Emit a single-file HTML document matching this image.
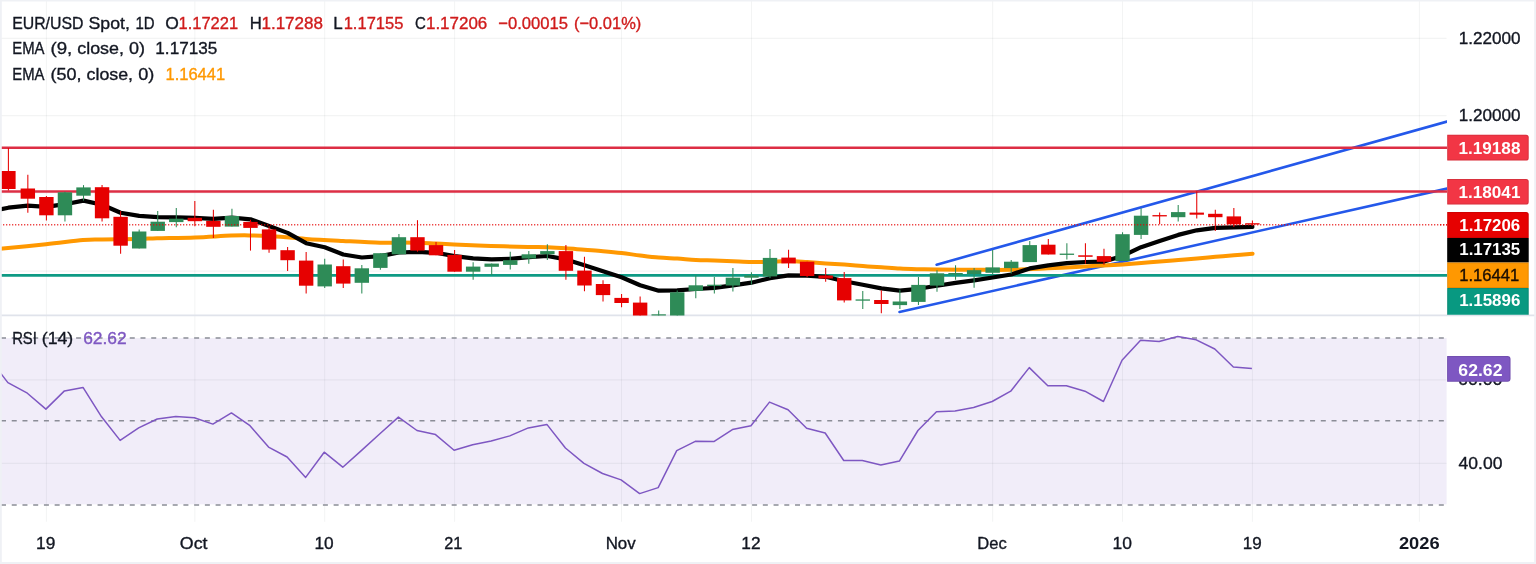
<!DOCTYPE html>
<html><head><meta charset="utf-8"><title>EUR/USD chart</title>
<style>html,body{margin:0;padding:0;background:#fff;}body{width:1536px;height:564px;overflow:hidden;font-family:"Liberation Sans",sans-serif;}svg{display:block;will-change:transform;opacity:0.9999}</style>
</head><body>
<svg width="1536" height="564" viewBox="0 0 1536 564" font-family="'Liberation Sans', sans-serif">
<rect x="0" y="0" width="1536" height="564" fill="#fff"/>
<defs><clipPath id="cm"><rect x="0" y="0" width="1447" height="315.4"/></clipPath><clipPath id="cr"><rect x="0" y="316" width="1447" height="206"/></clipPath></defs>
<rect x="0" y="338.1" width="1446.6" height="166.2" fill="#7e57c2" fill-opacity="0.105"/>
<line x1="46.40" y1="0" x2="46.40" y2="521.8" stroke="rgba(42,46,57,0.055)" stroke-width="1"/>
<line x1="194.83" y1="0" x2="194.83" y2="521.8" stroke="rgba(42,46,57,0.055)" stroke-width="1"/>
<line x1="324.71" y1="0" x2="324.71" y2="521.8" stroke="rgba(42,46,57,0.055)" stroke-width="1"/>
<line x1="454.59" y1="0" x2="454.59" y2="521.8" stroke="rgba(42,46,57,0.055)" stroke-width="1"/>
<line x1="621.57" y1="0" x2="621.57" y2="521.8" stroke="rgba(42,46,57,0.055)" stroke-width="1"/>
<line x1="751.45" y1="0" x2="751.45" y2="521.8" stroke="rgba(42,46,57,0.055)" stroke-width="1"/>
<line x1="992.65" y1="0" x2="992.65" y2="521.8" stroke="rgba(42,46,57,0.055)" stroke-width="1"/>
<line x1="1122.53" y1="0" x2="1122.53" y2="521.8" stroke="rgba(42,46,57,0.055)" stroke-width="1"/>
<line x1="1252.41" y1="0" x2="1252.41" y2="521.8" stroke="rgba(42,46,57,0.055)" stroke-width="1"/>
<line x1="1419.39" y1="0" x2="1419.39" y2="521.8" stroke="rgba(42,46,57,0.055)" stroke-width="1"/>
<line x1="0" y1="38.4" x2="1446.5" y2="38.4" stroke="rgba(42,46,57,0.055)" stroke-width="1.2"/>
<line x1="0" y1="115.7" x2="1446.5" y2="115.7" stroke="rgba(42,46,57,0.055)" stroke-width="1.2"/>
<line x1="0" y1="193.0" x2="1446.5" y2="193.0" stroke="rgba(42,46,57,0.055)" stroke-width="1.2"/>
<line x1="0" y1="271.2" x2="1446.5" y2="271.2" stroke="rgba(42,46,57,0.055)" stroke-width="1.2"/>
<line x1="0" y1="379.8" x2="1446.5" y2="379.8" stroke="rgba(42,46,57,0.055)" stroke-width="1.2"/>
<line x1="0" y1="463.3" x2="1446.5" y2="463.3" stroke="rgba(42,46,57,0.055)" stroke-width="1.2"/>
<line x1="0" y1="315.4" x2="1536" y2="315.4" stroke="#e0e3eb" stroke-width="1.6"/>
<g clip-path="url(#cm)">
<line x1="936.6" y1="264.65" x2="1447" y2="121.6" stroke="#2458ea" stroke-width="2.6" stroke-linecap="round"/>
<line x1="899.5" y1="311.9" x2="1447" y2="188.6" stroke="#2458ea" stroke-width="2.6" stroke-linecap="round"/>
<line x1="0" y1="147.8" x2="1447" y2="147.8" stroke="#dd2e44" stroke-width="2.5"/>
<line x1="0" y1="191.55" x2="1447" y2="191.55" stroke="#dd2e44" stroke-width="2.5"/>
<line x1="0" y1="275.3" x2="1447" y2="275.3" stroke="#0e9a84" stroke-width="2.7"/>
<path d="M0.00,248.70C7.67,247.97 32.17,245.75 46.00,244.30C59.83,242.85 73.67,240.82 83.00,240.00C92.33,239.18 92.67,239.58 102.00,239.40C111.33,239.22 129.83,239.08 139.00,238.90C148.17,238.72 147.67,238.55 157.00,238.30C166.33,238.05 182.67,237.85 195.00,237.40C207.33,236.95 221.83,235.93 231.00,235.60C240.17,235.27 243.67,235.33 250.00,235.40C256.33,235.47 259.67,235.42 269.00,236.00C278.33,236.58 293.67,238.07 306.00,238.90C318.33,239.73 330.67,240.35 343.00,241.00C355.33,241.65 370.83,242.53 380.00,242.80C389.17,243.07 391.83,242.60 398.00,242.60C404.17,242.60 410.72,242.63 417.00,242.80C423.28,242.97 429.53,243.33 435.70,243.60C441.87,243.87 444.78,244.02 454.00,244.40C463.22,244.78 478.67,245.48 491.00,245.90C503.33,246.32 518.60,246.67 528.00,246.90C537.40,247.13 541.07,247.07 547.40,247.30C553.73,247.53 559.82,247.88 566.00,248.30C572.18,248.72 578.33,249.32 584.50,249.80C590.67,250.28 596.82,250.67 603.00,251.20C609.18,251.73 615.40,252.28 621.60,253.00C627.80,253.72 634.00,254.73 640.20,255.50C646.40,256.27 652.62,257.08 658.80,257.60C664.98,258.12 671.12,258.22 677.30,258.60C683.48,258.98 689.72,259.58 695.90,259.90C702.08,260.22 708.22,260.27 714.40,260.50C720.58,260.73 726.80,261.03 733.00,261.30C739.20,261.57 745.43,262.03 751.60,262.10C757.77,262.17 763.82,261.87 770.00,261.70C776.18,261.53 782.50,261.03 788.70,261.10C794.90,261.17 801.02,261.72 807.20,262.10C813.38,262.48 819.62,262.98 825.80,263.40C831.98,263.82 838.12,264.15 844.30,264.60C850.48,265.05 856.70,265.65 862.90,266.10C869.10,266.55 875.32,266.88 881.50,267.30C887.68,267.72 893.82,268.28 900.00,268.60C906.18,268.92 912.43,269.05 918.60,269.20C924.77,269.35 927.77,269.40 937.00,269.50C946.23,269.60 961.67,269.75 974.00,269.80C986.33,269.85 998.67,270.05 1011.00,269.80C1023.33,269.55 1038.67,268.70 1048.00,268.30C1057.33,267.90 1060.83,267.72 1067.00,267.40C1073.17,267.08 1078.83,266.73 1085.00,266.40C1091.17,266.07 1097.72,265.73 1104.00,265.40C1110.28,265.07 1116.48,264.78 1122.70,264.40C1128.92,264.02 1135.12,263.58 1141.30,263.10C1147.48,262.62 1153.62,262.02 1159.80,261.50C1165.98,260.98 1172.20,260.52 1178.40,260.00C1184.60,259.48 1190.82,258.93 1197.00,258.40C1203.18,257.87 1209.33,257.33 1215.50,256.80C1221.67,256.27 1227.82,255.72 1234.00,255.20C1240.18,254.68 1249.50,253.95 1252.60,253.70" fill="none" stroke="#ff9800" stroke-width="4" stroke-linecap="round" stroke-linejoin="round"/>
<path d="M0.00,209.50 L8.40,207.70 L27.84,205.60 L46.40,206.80 L64.95,204.20 L83.51,200.60 L102.06,204.80 L120.61,212.70 L139.17,215.90 L157.72,217.05 L176.28,217.30 L194.83,217.80 L213.38,218.80 L231.94,217.70 L250.49,219.30 L269.05,226.00 L287.60,232.90 L306.15,243.20 L324.71,247.30 L343.26,254.50 L361.82,257.50 L380.37,256.10 L398.92,252.50 L417.48,251.80 L436.03,252.80 L454.59,256.10 L473.14,258.30 L491.69,259.40 L510.25,258.90 L528.80,257.20 L547.36,256.00 L565.91,259.40 L584.46,265.20 L603.02,271.20 L621.57,277.30 L640.13,285.30 L658.68,290.70 L677.23,290.30 L695.79,289.00 L714.34,287.80 L732.90,285.40 L751.45,282.70 L770.00,278.20 L788.56,275.40 L807.11,275.70 L825.67,276.80 L844.22,281.20 L862.77,284.70 L881.33,288.40 L899.88,290.60 L918.44,288.80 L936.99,285.80 L955.54,282.90 L974.10,280.30 L992.65,277.50 L1011.21,274.50 L1029.76,268.40 L1048.31,265.40 L1066.87,263.10 L1085.42,262.00 L1103.98,261.60 L1122.53,255.90 L1141.08,247.20 L1159.64,240.90 L1178.19,234.90 L1196.75,230.30 L1215.30,227.80 L1233.85,227.30 L1252.41,226.85" fill="none" stroke="#000" stroke-width="4.2" stroke-linecap="round" stroke-linejoin="round"/>
<line x1="8.40" y1="148.0" x2="8.40" y2="190.6" stroke="#e60000" stroke-width="1.05"/>
<rect x="1.20" y="171.0" width="14.4" height="18.00" fill="#e60000"/>
<line x1="27.84" y1="174.7" x2="27.84" y2="212.8" stroke="#e60000" stroke-width="1.05"/>
<rect x="20.64" y="188.5" width="14.4" height="10.20" fill="#e60000"/>
<line x1="46.40" y1="196.0" x2="46.40" y2="220.4" stroke="#e60000" stroke-width="1.05"/>
<rect x="39.20" y="197.0" width="14.4" height="18.30" fill="#e60000"/>
<line x1="64.95" y1="191.7" x2="64.95" y2="221.5" stroke="#2e8b57" stroke-width="1.05"/>
<rect x="57.75" y="192.3" width="14.4" height="23.00" fill="#2e8b57"/>
<line x1="83.51" y1="185.1" x2="83.51" y2="200.6" stroke="#2e8b57" stroke-width="1.05"/>
<rect x="76.31" y="187.4" width="14.4" height="8.30" fill="#2e8b57"/>
<line x1="102.06" y1="185.1" x2="102.06" y2="221.5" stroke="#e60000" stroke-width="1.05"/>
<rect x="94.86" y="187.2" width="14.4" height="31.10" fill="#e60000"/>
<line x1="120.61" y1="210.9" x2="120.61" y2="253.8" stroke="#e60000" stroke-width="1.05"/>
<rect x="113.41" y="216.8" width="14.4" height="28.90" fill="#e60000"/>
<line x1="139.17" y1="229.4" x2="139.17" y2="248.5" stroke="#2e8b57" stroke-width="1.05"/>
<rect x="131.97" y="231.5" width="14.4" height="17.00" fill="#2e8b57"/>
<line x1="157.72" y1="210.9" x2="157.72" y2="230.9" stroke="#2e8b57" stroke-width="1.05"/>
<rect x="150.52" y="221.7" width="14.4" height="9.20" fill="#2e8b57"/>
<line x1="176.28" y1="208.1" x2="176.28" y2="227.2" stroke="#2e8b57" stroke-width="1.05"/>
<rect x="169.08" y="218.7" width="14.4" height="3.40" fill="#2e8b57"/>
<line x1="194.83" y1="201.0" x2="194.83" y2="226.2" stroke="#e60000" stroke-width="1.05"/>
<rect x="187.63" y="217.8" width="14.4" height="3.40" fill="#e60000"/>
<line x1="213.38" y1="209.8" x2="213.38" y2="237.9" stroke="#e60000" stroke-width="1.05"/>
<rect x="206.18" y="220.9" width="14.4" height="5.90" fill="#e60000"/>
<line x1="231.94" y1="208.7" x2="231.94" y2="226.6" stroke="#2e8b57" stroke-width="1.05"/>
<rect x="224.74" y="216.0" width="14.4" height="10.60" fill="#2e8b57"/>
<line x1="250.49" y1="219.8" x2="250.49" y2="250.6" stroke="#e60000" stroke-width="1.05"/>
<rect x="243.29" y="221.9" width="14.4" height="6.00" fill="#e60000"/>
<line x1="269.05" y1="226.2" x2="269.05" y2="252.8" stroke="#e60000" stroke-width="1.05"/>
<rect x="261.85" y="229.4" width="14.4" height="20.20" fill="#e60000"/>
<line x1="287.60" y1="247.0" x2="287.60" y2="270.9" stroke="#e60000" stroke-width="1.05"/>
<rect x="280.40" y="250.2" width="14.4" height="10.00" fill="#e60000"/>
<line x1="306.15" y1="252.1" x2="306.15" y2="293.6" stroke="#e60000" stroke-width="1.05"/>
<rect x="298.95" y="260.6" width="14.4" height="25.10" fill="#e60000"/>
<line x1="324.71" y1="258.7" x2="324.71" y2="287.9" stroke="#2e8b57" stroke-width="1.05"/>
<rect x="317.51" y="264.5" width="14.4" height="21.90" fill="#2e8b57"/>
<line x1="343.26" y1="259.6" x2="343.26" y2="287.9" stroke="#e60000" stroke-width="1.05"/>
<rect x="336.06" y="266.2" width="14.4" height="17.40" fill="#e60000"/>
<line x1="361.82" y1="265.1" x2="361.82" y2="293.6" stroke="#2e8b57" stroke-width="1.05"/>
<rect x="354.62" y="268.3" width="14.4" height="14.50" fill="#2e8b57"/>
<line x1="380.37" y1="253.2" x2="380.37" y2="269.8" stroke="#2e8b57" stroke-width="1.05"/>
<rect x="373.17" y="253.2" width="14.4" height="14.70" fill="#2e8b57"/>
<line x1="398.92" y1="234.0" x2="398.92" y2="254.3" stroke="#2e8b57" stroke-width="1.05"/>
<rect x="391.72" y="237.2" width="14.4" height="17.10" fill="#2e8b57"/>
<line x1="417.48" y1="220.2" x2="417.48" y2="251.7" stroke="#e60000" stroke-width="1.05"/>
<rect x="410.28" y="237.2" width="14.4" height="13.40" fill="#e60000"/>
<line x1="436.03" y1="242.1" x2="436.03" y2="255.3" stroke="#e60000" stroke-width="1.05"/>
<rect x="428.83" y="245.1" width="14.4" height="10.20" fill="#e60000"/>
<line x1="454.59" y1="250.0" x2="454.59" y2="271.7" stroke="#e60000" stroke-width="1.05"/>
<rect x="447.39" y="254.9" width="14.4" height="16.80" fill="#e60000"/>
<line x1="473.14" y1="262.3" x2="473.14" y2="279.8" stroke="#2e8b57" stroke-width="1.05"/>
<rect x="465.94" y="266.6" width="14.4" height="5.10" fill="#2e8b57"/>
<line x1="491.69" y1="263.6" x2="491.69" y2="274.9" stroke="#2e8b57" stroke-width="1.05"/>
<rect x="484.49" y="263.6" width="14.4" height="3.20" fill="#2e8b57"/>
<line x1="510.25" y1="251.7" x2="510.25" y2="269.6" stroke="#2e8b57" stroke-width="1.05"/>
<rect x="503.05" y="260.2" width="14.4" height="4.70" fill="#2e8b57"/>
<line x1="528.80" y1="251.1" x2="528.80" y2="263.8" stroke="#2e8b57" stroke-width="1.05"/>
<rect x="521.60" y="254.3" width="14.4" height="4.20" fill="#2e8b57"/>
<line x1="547.36" y1="244.3" x2="547.36" y2="260.0" stroke="#2e8b57" stroke-width="1.05"/>
<rect x="540.16" y="251.1" width="14.4" height="3.20" fill="#2e8b57"/>
<line x1="565.91" y1="244.9" x2="565.91" y2="279.7" stroke="#e60000" stroke-width="1.05"/>
<rect x="558.71" y="251.1" width="14.4" height="19.70" fill="#e60000"/>
<line x1="584.46" y1="256.8" x2="584.46" y2="291.3" stroke="#e60000" stroke-width="1.05"/>
<rect x="577.26" y="270.6" width="14.4" height="14.90" fill="#e60000"/>
<line x1="603.02" y1="280.2" x2="603.02" y2="301.5" stroke="#e60000" stroke-width="1.05"/>
<rect x="595.82" y="284.0" width="14.4" height="11.10" fill="#e60000"/>
<line x1="621.57" y1="294.0" x2="621.57" y2="307.2" stroke="#e60000" stroke-width="1.05"/>
<rect x="614.37" y="297.9" width="14.4" height="5.10" fill="#e60000"/>
<line x1="640.13" y1="296.6" x2="640.13" y2="316.0" stroke="#e60000" stroke-width="1.05"/>
<rect x="632.93" y="302.6" width="14.4" height="13.40" fill="#e60000"/>
<line x1="658.68" y1="310.4" x2="658.68" y2="316.0" stroke="#2e8b57" stroke-width="1.05"/>
<rect x="651.48" y="314.3" width="14.4" height="1.70" fill="#2e8b57"/>
<line x1="677.23" y1="290.4" x2="677.23" y2="316.0" stroke="#2e8b57" stroke-width="1.05"/>
<rect x="670.03" y="292.3" width="14.4" height="23.70" fill="#2e8b57"/>
<line x1="695.79" y1="275.5" x2="695.79" y2="298.3" stroke="#2e8b57" stroke-width="1.05"/>
<rect x="688.59" y="285.3" width="14.4" height="5.60" fill="#2e8b57"/>
<line x1="714.34" y1="277.0" x2="714.34" y2="293.6" stroke="#2e8b57" stroke-width="1.05"/>
<rect x="707.14" y="284.7" width="14.4" height="1.30" fill="#2e8b57"/>
<line x1="732.90" y1="268.1" x2="732.90" y2="291.5" stroke="#2e8b57" stroke-width="1.05"/>
<rect x="725.70" y="277.7" width="14.4" height="7.80" fill="#2e8b57"/>
<line x1="751.45" y1="272.3" x2="751.45" y2="284.5" stroke="#2e8b57" stroke-width="1.05"/>
<rect x="744.25" y="275.5" width="14.4" height="2.20" fill="#2e8b57"/>
<line x1="770.00" y1="248.9" x2="770.00" y2="278.0" stroke="#2e8b57" stroke-width="1.05"/>
<rect x="762.80" y="257.9" width="14.4" height="18.50" fill="#2e8b57"/>
<line x1="788.56" y1="249.8" x2="788.56" y2="267.9" stroke="#e60000" stroke-width="1.05"/>
<rect x="781.36" y="257.6" width="14.4" height="5.80" fill="#e60000"/>
<line x1="807.11" y1="261.7" x2="807.11" y2="277.0" stroke="#e60000" stroke-width="1.05"/>
<rect x="799.91" y="261.7" width="14.4" height="14.30" fill="#e60000"/>
<line x1="825.67" y1="267.9" x2="825.67" y2="281.7" stroke="#e60000" stroke-width="1.05"/>
<rect x="818.47" y="275.5" width="14.4" height="3.00" fill="#e60000"/>
<line x1="844.22" y1="272.1" x2="844.22" y2="302.6" stroke="#e60000" stroke-width="1.05"/>
<rect x="837.02" y="278.1" width="14.4" height="22.30" fill="#e60000"/>
<line x1="862.77" y1="290.9" x2="862.77" y2="308.9" stroke="#2e8b57" stroke-width="1.05"/>
<rect x="855.57" y="299.4" width="14.4" height="1.30" fill="#2e8b57"/>
<line x1="881.33" y1="290.2" x2="881.33" y2="313.2" stroke="#e60000" stroke-width="1.05"/>
<rect x="874.13" y="300.0" width="14.4" height="4.00" fill="#e60000"/>
<line x1="899.88" y1="289.8" x2="899.88" y2="308.9" stroke="#2e8b57" stroke-width="1.05"/>
<rect x="892.68" y="301.5" width="14.4" height="3.60" fill="#2e8b57"/>
<line x1="918.44" y1="277.0" x2="918.44" y2="305.1" stroke="#2e8b57" stroke-width="1.05"/>
<rect x="911.24" y="284.9" width="14.4" height="17.00" fill="#2e8b57"/>
<line x1="936.99" y1="270.2" x2="936.99" y2="291.7" stroke="#2e8b57" stroke-width="1.05"/>
<rect x="929.79" y="273.3" width="14.4" height="12.30" fill="#2e8b57"/>
<line x1="955.54" y1="265.3" x2="955.54" y2="279.8" stroke="#2e8b57" stroke-width="1.05"/>
<rect x="948.34" y="273.0" width="14.4" height="1.50" fill="#2e8b57"/>
<line x1="974.10" y1="268.1" x2="974.10" y2="287.7" stroke="#2e8b57" stroke-width="1.05"/>
<rect x="966.90" y="270.2" width="14.4" height="3.80" fill="#2e8b57"/>
<line x1="992.65" y1="250.0" x2="992.65" y2="274.5" stroke="#2e8b57" stroke-width="1.05"/>
<rect x="985.45" y="267.4" width="14.4" height="5.40" fill="#2e8b57"/>
<line x1="1011.21" y1="260.0" x2="1011.21" y2="273.4" stroke="#2e8b57" stroke-width="1.05"/>
<rect x="1004.01" y="261.7" width="14.4" height="6.40" fill="#2e8b57"/>
<line x1="1029.76" y1="241.1" x2="1029.76" y2="262.1" stroke="#2e8b57" stroke-width="1.05"/>
<rect x="1022.56" y="245.1" width="14.4" height="17.00" fill="#2e8b57"/>
<line x1="1048.31" y1="238.9" x2="1048.31" y2="254.5" stroke="#e60000" stroke-width="1.05"/>
<rect x="1041.11" y="244.7" width="14.4" height="9.80" fill="#e60000"/>
<line x1="1066.87" y1="243.2" x2="1066.87" y2="259.6" stroke="#2e8b57" stroke-width="1.05"/>
<rect x="1059.67" y="253.6" width="14.4" height="1.30" fill="#2e8b57"/>
<line x1="1085.42" y1="243.2" x2="1085.42" y2="263.8" stroke="#e60000" stroke-width="1.05"/>
<rect x="1078.22" y="255.3" width="14.4" height="1.50" fill="#e60000"/>
<line x1="1103.98" y1="248.8" x2="1103.98" y2="264.8" stroke="#e60000" stroke-width="1.05"/>
<rect x="1096.78" y="256.1" width="14.4" height="5.70" fill="#e60000"/>
<line x1="1122.53" y1="232.3" x2="1122.53" y2="261.0" stroke="#2e8b57" stroke-width="1.05"/>
<rect x="1115.33" y="234.2" width="14.4" height="26.80" fill="#2e8b57"/>
<line x1="1141.08" y1="208.3" x2="1141.08" y2="239.1" stroke="#2e8b57" stroke-width="1.05"/>
<rect x="1133.88" y="215.7" width="14.4" height="19.20" fill="#2e8b57"/>
<line x1="1159.64" y1="212.6" x2="1159.64" y2="224.3" stroke="#e60000" stroke-width="1.05"/>
<rect x="1152.44" y="215.1" width="14.4" height="1.30" fill="#e60000"/>
<line x1="1178.19" y1="205.1" x2="1178.19" y2="221.5" stroke="#2e8b57" stroke-width="1.05"/>
<rect x="1170.99" y="212.1" width="14.4" height="5.10" fill="#2e8b57"/>
<line x1="1196.75" y1="191.3" x2="1196.75" y2="218.5" stroke="#e60000" stroke-width="1.05"/>
<rect x="1189.55" y="212.6" width="14.4" height="2.10" fill="#e60000"/>
<line x1="1215.30" y1="209.8" x2="1215.30" y2="231.1" stroke="#e60000" stroke-width="1.05"/>
<rect x="1208.10" y="213.8" width="14.4" height="3.40" fill="#e60000"/>
<line x1="1233.85" y1="207.9" x2="1233.85" y2="227.0" stroke="#e60000" stroke-width="1.05"/>
<rect x="1226.65" y="216.4" width="14.4" height="7.90" fill="#e60000"/>
<line x1="1252.41" y1="220.6" x2="1252.41" y2="225.7" stroke="#e60000" stroke-width="1.05"/>
<rect x="1245.21" y="223.2" width="14.4" height="1.30" fill="#e60000"/>
<line x1="0" y1="224.8" x2="1447" y2="224.8" stroke="#e60000" stroke-opacity="0.72" stroke-width="1.4" stroke-dasharray="1.3 1.7"/>
</g>
<g clip-path="url(#cr)">
<line x1="1" y1="338.1" x2="1446.5" y2="338.1" stroke="#8b8d97" stroke-width="1.5" stroke-dasharray="5 5.73"/>
<line x1="1" y1="420.8" x2="1446.5" y2="420.8" stroke="#8b8d97" stroke-width="1.5" stroke-dasharray="5 5.73"/>
<line x1="1" y1="504.9" x2="1446.5" y2="504.9" stroke="#8b8d97" stroke-width="1.5" stroke-dasharray="5 5.73"/>
<path d="M0.00,372.40 L7.90,382.60 L27.34,393.20 L45.90,409.10 L64.45,390.90 L83.01,387.40 L101.56,416.80 L120.11,440.40 L138.67,427.90 L157.22,419.00 L175.78,416.40 L194.33,417.70 L212.88,424.10 L231.44,412.90 L249.99,425.70 L268.55,447.10 L287.10,457.00 L305.65,477.40 L324.21,452.20 L342.76,467.20 L361.32,450.60 L379.87,433.70 L398.42,417.10 L416.98,430.50 L435.53,434.60 L454.09,450.30 L472.64,444.80 L491.19,441.00 L509.75,435.90 L528.30,427.90 L546.86,424.40 L565.41,448.00 L583.96,463.30 L602.52,473.50 L621.07,479.90 L639.63,493.60 L658.18,487.60 L676.73,450.60 L695.29,441.30 L713.84,441.60 L732.40,429.60 L750.95,425.70 L769.50,402.10 L788.06,409.70 L806.61,428.20 L825.17,433.00 L843.72,460.50 L862.27,460.50 L880.83,464.90 L899.38,461.10 L917.94,430.50 L936.49,411.70 L955.04,411.00 L973.60,407.50 L992.15,401.50 L1010.71,391.20 L1029.26,367.60 L1047.81,385.80 L1066.37,385.80 L1084.92,391.20 L1103.48,401.50 L1122.03,360.30 L1140.58,340.20 L1159.14,341.50 L1177.69,336.60 L1196.25,339.80 L1214.80,349.00 L1233.35,367.00 L1251.91,368.40" fill="none" stroke="#7e57c2" stroke-width="1.5" stroke-linejoin="round"/>
</g>
<text x="12.16" y="28.70" font-size="17" fill="#131722" stroke="#131722" stroke-width="0.35" textLength="71.29" lengthAdjust="spacingAndGlyphs">EUR/USD</text>
<text x="88.55" y="28.70" font-size="17" fill="#131722" stroke="#131722" stroke-width="0.35" textLength="41.38" lengthAdjust="spacingAndGlyphs">Spot,</text>
<text x="135.46" y="28.70" font-size="17" fill="#131722" stroke="#131722" stroke-width="0.35" textLength="19.16" lengthAdjust="spacingAndGlyphs">1D</text>
<text x="165.18" y="28.70" font-size="17" fill="#131722" stroke="#131722" stroke-width="0.35" textLength="13.58" lengthAdjust="spacingAndGlyphs">O</text>
<text x="178.57" y="28.70" font-size="17" fill="#d01c1c" stroke="#d01c1c" stroke-width="0.35" textLength="59.50" lengthAdjust="spacingAndGlyphs">1.17221</text>
<text x="249.69" y="28.70" font-size="17" fill="#131722" stroke="#131722" stroke-width="0.35" textLength="12.07" lengthAdjust="spacingAndGlyphs">H</text>
<text x="261.44" y="28.70" font-size="17" fill="#d01c1c" stroke="#d01c1c" stroke-width="0.35" textLength="61.55" lengthAdjust="spacingAndGlyphs">1.17288</text>
<text x="333.27" y="28.70" font-size="17" fill="#131722" stroke="#131722" stroke-width="0.35" textLength="9.45" lengthAdjust="spacingAndGlyphs">L</text>
<text x="343.67" y="28.70" font-size="17" fill="#d01c1c" stroke="#d01c1c" stroke-width="0.35" textLength="59.80" lengthAdjust="spacingAndGlyphs">1.17155</text>
<text x="415.00" y="28.70" font-size="17" fill="#131722" stroke="#131722" stroke-width="0.35" textLength="10.82" lengthAdjust="spacingAndGlyphs">C</text>
<text x="425.94" y="28.70" font-size="17" fill="#d01c1c" stroke="#d01c1c" stroke-width="0.35" textLength="61.35" lengthAdjust="spacingAndGlyphs">1.17206</text>
<text x="498.22" y="28.70" font-size="17" fill="#d01c1c" stroke="#d01c1c" stroke-width="0.35" textLength="69.75" lengthAdjust="spacingAndGlyphs">−0.00015</text>
<text x="574.03" y="28.70" font-size="17" fill="#d01c1c" stroke="#d01c1c" stroke-width="0.35" textLength="67.22" lengthAdjust="spacingAndGlyphs">(−0.01%)</text>
<text x="12.24" y="54.20" font-size="17" fill="#131722" stroke="#131722" stroke-width="0.35" textLength="32.29" lengthAdjust="spacingAndGlyphs">EMA</text>
<text x="50.43" y="54.20" font-size="17" fill="#131722" stroke="#131722" stroke-width="0.35" textLength="21.77" lengthAdjust="spacingAndGlyphs">(9,</text>
<text x="77.24" y="54.20" font-size="17" fill="#131722" stroke="#131722" stroke-width="0.35" textLength="46.69" lengthAdjust="spacingAndGlyphs">close,</text>
<text x="129.14" y="54.20" font-size="17" fill="#131722" stroke="#131722" stroke-width="0.35" textLength="15.99" lengthAdjust="spacingAndGlyphs">0)</text>
<text x="155.33" y="54.20" font-size="17" fill="#131722" stroke="#131722" stroke-width="0.35" textLength="61.97" lengthAdjust="spacingAndGlyphs">1.17135</text>
<text x="12.24" y="79.60" font-size="17" fill="#131722" stroke="#131722" stroke-width="0.35" textLength="32.29" lengthAdjust="spacingAndGlyphs">EMA</text>
<text x="50.46" y="79.60" font-size="17" fill="#131722" stroke="#131722" stroke-width="0.35" textLength="30.99" lengthAdjust="spacingAndGlyphs">(50,</text>
<text x="86.54" y="79.60" font-size="17" fill="#131722" stroke="#131722" stroke-width="0.35" textLength="46.49" lengthAdjust="spacingAndGlyphs">close,</text>
<text x="138.23" y="79.60" font-size="17" fill="#131722" stroke="#131722" stroke-width="0.35" textLength="16.10" lengthAdjust="spacingAndGlyphs">0)</text>
<text x="165.47" y="79.60" font-size="17" fill="#ff9800" stroke="#ff9800" stroke-width="0.35" textLength="59.70" lengthAdjust="spacingAndGlyphs">1.16441</text>
<text x="12.14" y="343.60" font-size="17" fill="#131722" stroke="#131722" stroke-width="0.35" textLength="24.81" lengthAdjust="spacingAndGlyphs">RSI</text>
<text x="41.77" y="343.60" font-size="17" fill="#131722" stroke="#131722" stroke-width="0.35" textLength="31.44" lengthAdjust="spacingAndGlyphs">(14)</text>
<text x="83.18" y="343.60" font-size="17" fill="#7e57c2" stroke="#7e57c2" stroke-width="0.35" textLength="43.52" lengthAdjust="spacingAndGlyphs">62.62</text>
<text x="1458.83" y="43.70" font-size="17" fill="#131722" stroke="#131722" stroke-width="0.35" textLength="61.79" lengthAdjust="spacingAndGlyphs">1.22000</text>
<text x="1458.83" y="121.20" font-size="17" fill="#131722" stroke="#131722" stroke-width="0.35" textLength="61.79" lengthAdjust="spacingAndGlyphs">1.20000</text>
<text x="1458.07" y="385.30" font-size="17" fill="#131722" stroke="#131722" stroke-width="0.35" textLength="44.37" lengthAdjust="spacingAndGlyphs">60.00</text>
<text x="1458.63" y="469.10" font-size="17" fill="#131722" stroke="#131722" stroke-width="0.35" textLength="43.81" lengthAdjust="spacingAndGlyphs">40.00</text>
<text x="36.12" y="549.30" font-size="17" fill="#131722" stroke="#131722" stroke-width="0.35" textLength="19.29" lengthAdjust="spacingAndGlyphs">19</text>
<text x="179.87" y="549.30" font-size="17" fill="#131722" stroke="#131722" stroke-width="0.35" textLength="27.67" lengthAdjust="spacingAndGlyphs">Oct</text>
<text x="314.52" y="549.30" font-size="17" fill="#131722" stroke="#131722" stroke-width="0.35" textLength="19.21" lengthAdjust="spacingAndGlyphs">10</text>
<text x="444.24" y="549.30" font-size="17" fill="#131722" stroke="#131722" stroke-width="0.35" textLength="18.12" lengthAdjust="spacingAndGlyphs">21</text>
<text x="605.68" y="549.30" font-size="17" fill="#131722" stroke="#131722" stroke-width="0.35" textLength="30.02" lengthAdjust="spacingAndGlyphs">Nov</text>
<text x="741.32" y="549.30" font-size="17" fill="#131722" stroke="#131722" stroke-width="0.35" textLength="19.29" lengthAdjust="spacingAndGlyphs">12</text>
<text x="977.31" y="549.30" font-size="17" fill="#131722" stroke="#131722" stroke-width="0.35" textLength="29.45" lengthAdjust="spacingAndGlyphs">Dec</text>
<text x="1112.51" y="549.30" font-size="17" fill="#131722" stroke="#131722" stroke-width="0.35" textLength="19.43" lengthAdjust="spacingAndGlyphs">10</text>
<text x="1242.83" y="549.30" font-size="17" fill="#131722" stroke="#131722" stroke-width="0.35" textLength="18.96" lengthAdjust="spacingAndGlyphs">19</text>
<text x="1398.93" y="549.30" font-size="17" fill="#131722" font-weight="bold" textLength="40.73" lengthAdjust="spacingAndGlyphs">2026</text>
<clipPath id="cl"><rect x="1440" y="0" width="96" height="314.7"/></clipPath><g clip-path="url(#cl)">
<path d="M1447.2,134.75H1526.1000000000001Q1528.7,134.75 1528.7,137.35V157.9Q1528.7,160.5 1526.1000000000001,160.5H1447.2Z" fill="#f23645"/><path d="M1447.7,135.25H1526.1000000000001Q1528.2,135.25 1528.2,137.35V157.9Q1528.2,160.0 1526.1000000000001,160.0H1447.7Z" fill="none" stroke="#000" stroke-opacity="0.1" stroke-width="1"/>
<text x="1458.53" y="153.60" font-size="17" fill="#fff" font-weight="bold" textLength="61.90" lengthAdjust="spacingAndGlyphs">1.19188</text>
<path d="M1447.2,179.0H1526.1000000000001Q1528.7,179.0 1528.7,181.6V201.9Q1528.7,204.5 1526.1000000000001,204.5H1447.2Z" fill="#f23645"/><path d="M1447.7,179.5H1526.1000000000001Q1528.2,179.5 1528.2,181.6V201.9Q1528.2,204.0 1526.1000000000001,204.0H1447.7Z" fill="none" stroke="#000" stroke-opacity="0.1" stroke-width="1"/>
<text x="1458.53" y="197.70" font-size="17" fill="#fff" font-weight="bold" textLength="61.90" lengthAdjust="spacingAndGlyphs">1.18041</text>
<path d="M1447.2,212.1H1526.1000000000001Q1528.7,212.1 1528.7,214.7V237.9H1447.2Z" fill="#e60000"/><path d="M1447.7,212.6H1526.1000000000001Q1528.2,212.6 1528.2,214.7V237.4H1447.7Z" fill="none" stroke="#000" stroke-opacity="0.1" stroke-width="1"/>
<text x="1459.25" y="230.70" font-size="17" fill="#fff" font-weight="bold" textLength="60.97" lengthAdjust="spacingAndGlyphs">1.17206</text>
<path d="M1447.2,237.9H1526.1000000000001H1528.7V262.4H1447.2Z" fill="#000"/><path d="M1447.7,238.4H1526.1000000000001H1528.2V261.9H1447.7Z" fill="none" stroke="#000" stroke-opacity="0.1" stroke-width="1"/>
<text x="1459.25" y="255.40" font-size="17" fill="#fff" font-weight="bold" textLength="60.97" lengthAdjust="spacingAndGlyphs">1.17135</text>
<path d="M1447.2,262.4H1526.1000000000001H1528.7V288.1H1447.2Z" fill="#ff9800"/><path d="M1447.7,262.9H1526.1000000000001H1528.2V287.6H1447.7Z" fill="none" stroke="#000" stroke-opacity="0.1" stroke-width="1"/>
<text x="1459.16" y="280.60" font-size="17" fill="#1a0d00" stroke="#1a0d00" stroke-width="0.35" textLength="60.11" lengthAdjust="spacingAndGlyphs">1.16441</text>
<path d="M1447.2,288.1H1526.1000000000001H1528.7V318.0H1447.2Z" fill="#089981"/><path d="M1447.7,288.6H1526.1000000000001H1528.2V317.5H1447.7Z" fill="none" stroke="#000" stroke-opacity="0.1" stroke-width="1"/>
<text x="1459.14" y="305.50" font-size="17" fill="#fff" font-weight="bold" textLength="61.28" lengthAdjust="spacingAndGlyphs">1.15896</text>
<line x1="0" y1="224.8" x2="1447" y2="224.8" stroke="#e60000" stroke-opacity="0.72" stroke-width="1.4" stroke-dasharray="1.3 1.7"/>
</g>
<path d="M1447.1,356.1H1507.5Q1510.5,356.1 1510.5,359.1V378.8Q1510.5,381.8 1507.5,381.8H1447.1Z" fill="#7e57c2"/><path d="M1447.6,356.6H1507.5Q1510.0,356.6 1510.0,359.1V378.8Q1510.0,381.3 1507.5,381.3H1447.6Z" fill="none" stroke="#000" stroke-opacity="0.1" stroke-width="1"/>
<text x="1458.35" y="375.60" font-size="17" fill="#fff" font-weight="bold" textLength="44.09" lengthAdjust="spacingAndGlyphs">62.62</text>
<path d="M0,0H1536V564H0Z M1.8,1.6V562H1534.2V1.6Z" fill="#eff1f5" fill-rule="evenodd"/>
</svg>
</body></html>
